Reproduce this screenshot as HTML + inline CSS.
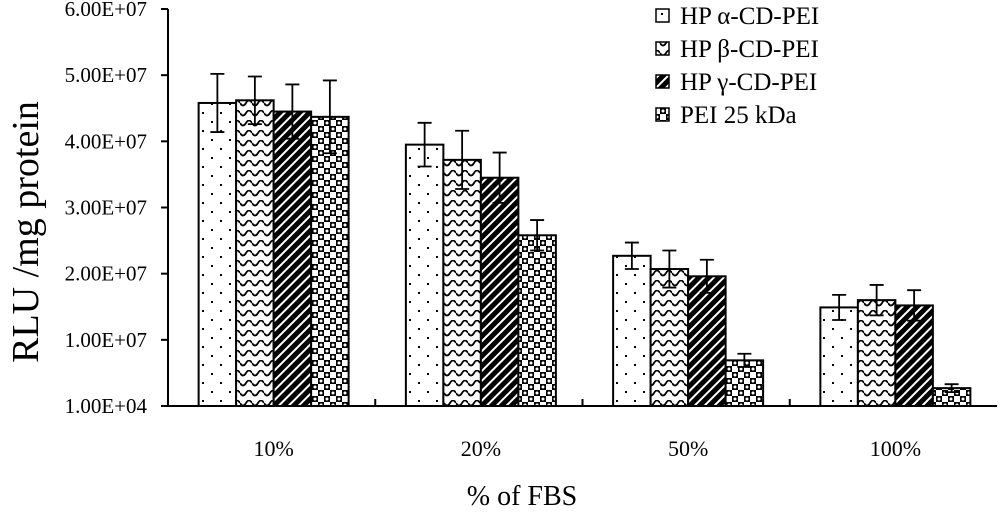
<!DOCTYPE html>
<html><head><meta charset="utf-8"><style>
body{margin:0;background:#fff}
svg{display:block;font-family:"Liberation Serif",serif}
</style></head><body>
<svg id="chart" width="1000" height="514" viewBox="0 0 1000 514">
<defs>
<pattern id="p0" width="18" height="18" patternUnits="userSpaceOnUse"><rect width="18" height="18" fill="#fff"/><rect x="4" y="4" width="2" height="2" fill="#000"/><rect x="13" y="13" width="2" height="2" fill="#000"/></pattern>
<pattern id="p1" width="12" height="10" patternUnits="userSpaceOnUse"><rect width="12" height="10" fill="#fff"/><path d="M0 3 Q3 8 6 3 Q9 -2 12 3" stroke="#000" stroke-width="1.8" fill="none"/></pattern>
<pattern id="p2" width="7" height="7" patternUnits="userSpaceOnUse" patternTransform="rotate(45)"><rect width="7" height="7" fill="#000"/><rect x="0" y="0" width="2" height="7" fill="#fff"/></pattern>
<pattern id="p3" width="12" height="12" patternUnits="userSpaceOnUse"><rect width="12" height="12" fill="#fff"/><rect width="6" height="6" fill="#000"/><rect x="6" y="6" width="6" height="6" fill="#000"/><circle cx="3" cy="3" r="1.5" fill="#fff"/><circle cx="9" cy="9" r="1.5" fill="#fff"/></pattern>
</defs>
<g id="plot"></g>
<text transform="translate(38,232) rotate(-90)" text-anchor="middle" font-size="38">RLU /mg protein</text>
<text x="522" y="505" text-anchor="middle" font-size="28">% of FBS</text>
</svg>
<script>
const categories=["10%","20%","50%","100%"];
const seriesNames=["HP α-CD-PEI","HP β-CD-PEI","HP γ-CD-PEI","PEI 25 kDa"];
const s0=[4.58,3.95,2.27,1.49];
const s1=[4.62,3.72,2.07,1.60];
const s2=[4.45,3.45,1.96,1.52];
const s3=[4.37,2.58,0.69,0.27];
const e0=[0.44,0.33,0.20,0.19];
const e1=[0.36,0.44,0.28,0.23];
const e2=[0.41,0.38,0.25,0.23];
const e3=[0.55,0.23,0.10,0.06];
const tickVals=[0,1,2,3,4,5,6];
const tickLabels=["1.00E+04","1.00E+07","2.00E+07","3.00E+07","4.00E+07","5.00E+07","6.00E+07"];
const series=[s0,s1,s2,s3], errs=[e0,e1,e2,e3];
const NS="http://www.w3.org/2000/svg";
const g=document.getElementById('plot');
const x0=168,x1=997,yb=406,yt=9;
const y=v=>yb-(v/6)*(yb-yt);
const groupW=(x1-x0)/categories.length;
const bw=37.5;
const xc=i=>x0+groupW*(i+0.5)+2;
function mk(t,a){const e=document.createElementNS(NS,t);for(const k in a)e.setAttribute(k,a[k]);g.appendChild(e);return e;}
let ax=mk('line',{x1:x0,y1:yt,x2:x0,y2:yb,stroke:'#000','stroke-width':2});

let bx=mk('line',{x1:x0,y1:yb,x2:x1,y2:yb,stroke:'#000','stroke-width':2});

tickVals.forEach((v,i)=>{
 const t=mk('line',{x1:x0-7,y1:y(v),x2:x0,y2:y(v),stroke:'#000','stroke-width':2});
 
 const l=mk('text',{x:x0-21,y:y(v)+7,'text-anchor':'end','font-size':21});
 l.textContent=tickLabels[i];
 
});
categories.forEach((c,i)=>{
 const l=mk('text',{x:xc(i),y:456,'text-anchor':'middle','font-size':22});
 l.textContent=c;
 
 if(i>0){const t=mk('line',{x1:x0+groupW*i,y1:yb,x2:x0+groupW*i,y2:yb-7,stroke:'#000','stroke-width':2});
 }
 series.forEach((s,j)=>{
  const bx0=xc(i)-2*bw+j*bw;
  const r=mk('rect',{x:bx0,y:y(s[i]),width:bw,height:yb-y(s[i]),fill:'url(#p'+j+')',stroke:'#000','stroke-width':2});
  
  const cx=bx0+bw/2,hi=y(s[i]+errs[j][i]),lo=y(s[i]-errs[j][i]);
  const e=mk('path',{d:`M${cx},${hi}V${lo}M${cx-7},${hi}H${cx+7}M${cx-7},${lo}H${cx+7}`,stroke:'#000','stroke-width':1.8,fill:'none'});
  
 });
});
seriesNames.forEach((n,j)=>{
 const yy=16+j*33;
 const r=mk('rect',{x:656,y:yy-7,width:13,height:13,fill:'url(#p'+j+')',stroke:'#000','stroke-width':1.5});
 
 const t=mk('text',{x:680,y:yy+8,'font-size':25});
 t.textContent=n;
 
});
</script>
</body></html>
